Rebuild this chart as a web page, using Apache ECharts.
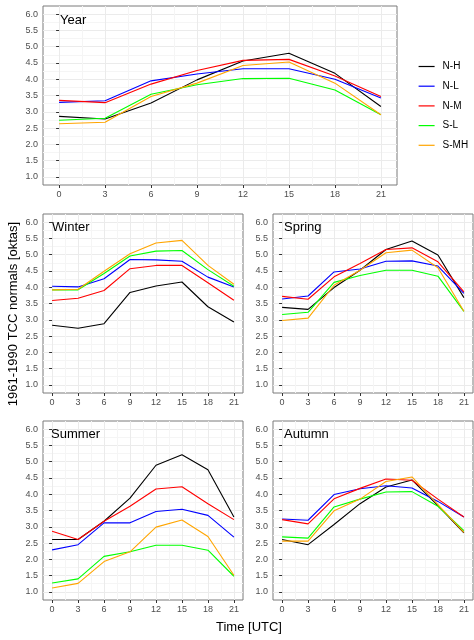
<!DOCTYPE html>
<html lang="en">
<head>
    <meta charset="UTF-8">
    <title>TCC normals</title>
    <script src="https://cdn.jsdelivr.net/npm/echarts@6/dist/echarts.min.js"></script>
    <style>
        html, body { margin: 0; padding: 0; background: #fff; }
        #chart { width: 474px; height: 640px; }
    </style>
</head>
<body>
<div id="chart"></div>
<script>
    // hours of day (UTC)
    const hours = [0, 3, 6, 9, 12, 15, 18, 21];
    const xTicks = [0, 3, 6, 9, 12, 15, 18, 21];
    const yTicks = [1, 1.5, 2, 2.5, 3, 3.5, 4, 4.5, 5, 5.5, 6];
    const seriesNames = ['N-H', 'N-L', 'N-M', 'S-L', 'S-MH'];
    const lineColors = ['#000000', '#0000FF', '#FF0000', '#00FF00', '#FFA500'];

    // each panel: rows in seriesNames order
    const year = [
        [2.86, 2.78, 3.27, 3.98, 4.56, 4.80, 4.18, 3.16],
        [3.29, 3.34, 3.95, 4.16, 4.32, 4.32, 4.00, 3.42],
        [3.35, 3.28, 3.85, 4.27, 4.58, 4.61, 4.10, 3.47],
        [2.74, 2.80, 3.54, 3.83, 4.02, 4.03, 3.67, 2.91],
        [2.63, 2.68, 3.47, 3.88, 4.42, 4.53, 3.88, 2.91]
    ];
    const winter = [
        [2.83, 2.74, 2.88, 3.84, 4.04, 4.16, 3.40, 2.93],
        [4.03, 4.01, 4.26, 4.85, 4.84, 4.80, 4.31, 4.01],
        [3.59, 3.66, 3.90, 4.57, 4.67, 4.67, 4.14, 3.60],
        [3.92, 3.92, 4.42, 4.96, 5.11, 5.13, 4.54, 4.03],
        [3.92, 3.94, 4.49, 5.03, 5.36, 5.44, 4.67, 4.09]
    ];
    const spring = [
        [3.38, 3.32, 3.99, 4.52, 5.16, 5.42, 4.99, 3.68],
        [3.64, 3.73, 4.47, 4.56, 4.80, 4.81, 4.65, 3.81],
        [3.72, 3.63, 4.32, 4.73, 5.16, 5.21, 4.78, 3.86],
        [3.16, 3.23, 4.15, 4.36, 4.52, 4.52, 4.34, 3.26],
        [2.98, 3.05, 4.06, 4.52, 5.06, 5.14, 4.60, 3.26]
    ];
    const summer = [
        [2.61, 2.61, 3.17, 3.88, 4.89, 5.21, 4.75, 3.30],
        [2.29, 2.45, 3.12, 3.12, 3.47, 3.54, 3.35, 2.68],
        [2.86, 2.61, 3.17, 3.63, 4.16, 4.23, 3.71, 3.22],
        [1.27, 1.40, 2.09, 2.23, 2.43, 2.43, 2.28, 1.48],
        [1.12, 1.26, 1.93, 2.23, 2.99, 3.21, 2.70, 1.51]
    ];
    const autumn = [
        [2.61, 2.45, 3.07, 3.71, 4.22, 4.44, 3.65, 2.81],
        [3.24, 3.20, 3.99, 4.17, 4.26, 4.19, 3.78, 3.30],
        [3.22, 3.09, 3.86, 4.18, 4.47, 4.43, 3.85, 3.30],
        [2.69, 2.65, 3.61, 3.85, 4.07, 4.08, 3.63, 2.88],
        [2.56, 2.56, 3.49, 3.85, 4.39, 4.53, 3.68, 2.83]
    ];

    const font = 'Liberation Sans, Arial, sans-serif';
    const panels = [
        {name: 'Year',   data: year,   left: 43,  top: 6,   width: 354, height: 179, tx: 60,  ty: 21},
        {name: 'Winter', data: winter, left: 43,  top: 214, width: 200, height: 179, tx: 52,  ty: 228},
        {name: 'Spring', data: spring, left: 273, top: 214, width: 200, height: 179, tx: 284, ty: 228},
        {name: 'Summer', data: summer, left: 43,  top: 421, width: 200, height: 179, tx: 51,  ty: 435},
        {name: 'Autumn', data: autumn, left: 273, top: 421, width: 200, height: 179, tx: 284, ty: 435}
    ];

    // grid line positions (major + minor in between)
    let xGrid = [], yGrid = [];
    for (let v = 0; v <= 21; v += 1.5) xGrid.push(v);
    for (let v = 1; v <= 6.001; v += 0.25) yGrid.push(+v.toFixed(2));

    let grids = [], xAxes = [], yAxes = [], series = [], graphics = [];
    panels.forEach(function (p, i) {
        grids.push({
            left: p.left, top: p.top, width: p.width, height: p.height,
            show: true, borderColor: '#7a7a7a', borderWidth: 1
        });
        // axis with labels and ticks
        xAxes.push({
            type: 'value', gridIndex: i, min: -1.05, max: 22.05, position: 'bottom',
            axisLine: {show: false},
            axisTick: {show: true, length: 3, customValues: xTicks, lineStyle: {color: '#333'}},
            axisLabel: {customValues: xTicks, margin: 5, color: '#4D4D4D', fontSize: 9, fontFamily: font},
            splitLine: {show: false}
        });
        yAxes.push({
            type: 'value', gridIndex: i, min: 0.75, max: 6.25, position: 'left',
            axisLine: {show: false},
            axisTick: {show: true, length: 3, customValues: yTicks, lineStyle: {color: '#333'}},
            axisLabel: {
                customValues: yTicks, margin: 5, color: '#4D4D4D', fontSize: 9, fontFamily: font,
                formatter: function (v) { return v.toFixed(1); }
            },
            splitLine: {show: false}
        });
        // hidden axes only for the grid lines
        xAxes.push({
            type: 'value', gridIndex: i, min: -1.05, max: 22.05,
            axisLine: {show: false}, axisLabel: {show: false},
            axisTick: {show: false, customValues: xGrid},
            splitLine: {show: true, lineStyle: {color: ['#EBEBEB', '#F5F5F5'], width: 1}}
        });
        yAxes.push({
            type: 'value', gridIndex: i, min: 0.75, max: 6.25,
            axisLine: {show: false}, axisLabel: {show: false},
            axisTick: {show: false, customValues: yGrid},
            splitLine: {show: true, lineStyle: {color: ['#EBEBEB', '#F5F5F5'], width: 1}}
        });
        p.data.forEach(function (vals, k) {
            series.push({
                name: seriesNames[k], type: 'line',
                xAxisIndex: i * 2, yAxisIndex: i * 2,
                symbol: 'none', silent: true,
                lineStyle: {color: lineColors[k], width: 1.1},
                itemStyle: {color: lineColors[k]},
                data: hours.map(function (h, j) { return [h, vals[j]]; })
            });
        });
        graphics.push({
            type: 'text', left: p.tx, top: p.ty - 7, z: 100,
            style: {text: p.name, fill: '#000', font: '13px ' + font}
        });
    });

    // shared axis titles
    graphics.push({
        type: 'text', left: 216, top: 621, z: 100,
        style: {text: 'Time [UTC]', fill: '#000', font: '13px ' + font}
    });
    graphics.push({
        type: 'text', x: 13, y: 314, rotation: Math.PI / 2, z: 100,
        style: {text: '1961-1990 TCC normals [oktas]', fill: '#000', font: '13px ' + font,
            align: 'center', verticalAlign: 'middle'}
    });

    const chart = echarts.init(document.getElementById('chart'));
    chart.setOption({
        animation: false,
        backgroundColor: '#fff',
        textStyle: {fontFamily: font},
        legend: {
            orient: 'vertical', left: 418, top: 61.5,
            itemWidth: 16, itemHeight: 10, itemGap: 9.7,
            padding: 0,
            itemStyle: {opacity: 0},
            lineStyle: {width: 1.2},
            data: seriesNames,
            textStyle: {fontSize: 10, color: '#000', padding: [0, 0, 0, 3]}
        },
        grid: grids,
        xAxis: xAxes,
        yAxis: yAxes,
        series: series,
        graphic: graphics
    });
</script>
</body>
</html>
